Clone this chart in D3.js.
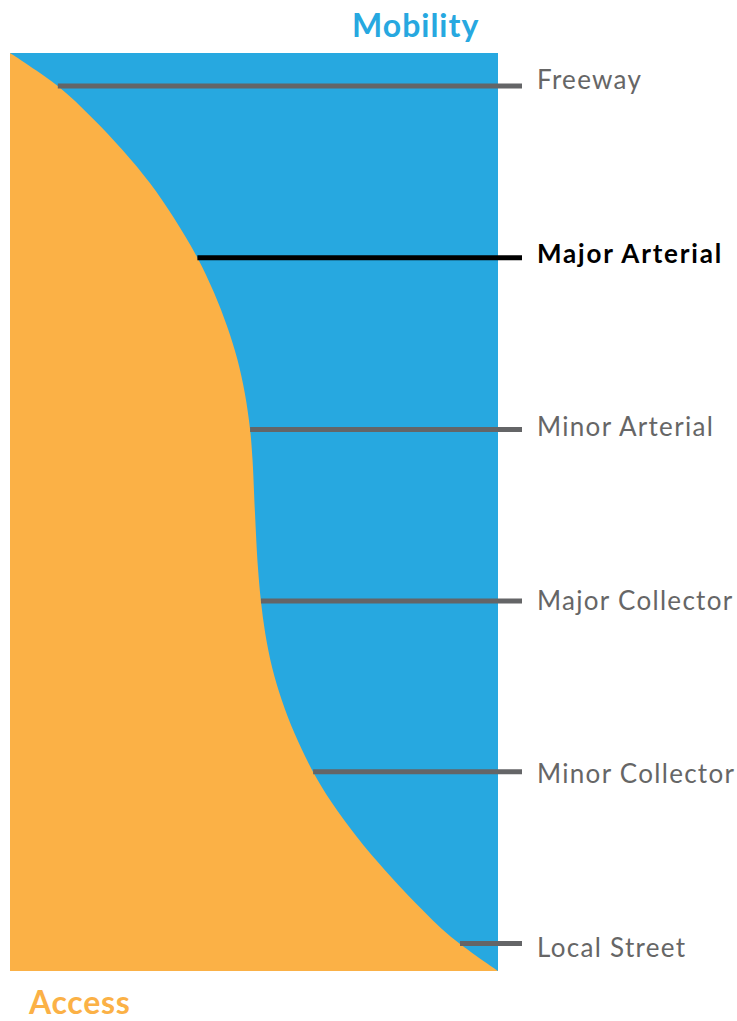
<!DOCTYPE html>
<html>
<head>
<meta charset="utf-8">
<script src="https://cdn.jsdelivr.net/npm/d3@7"></script>
<style>
  body { margin: 0; background: #fff; }
  svg { display: block; }
</style>
</head>
<body>
<svg id="chart" width="737" height="1021"></svg>
<script>
// ---- Data (percent along the mobility axis vs. access share) ----
// boundary between Access (left, orange) and Mobility (right, blue)
const boundaryDepth = [0, 3.6, 7.0, 10.6, 14.2, 17.9, 22.3, 26.1, 29.8, 33.4, 37.0, 41.0, 44.3, 50.1, 56.0, 59.6, 63.2, 66.9, 70.5, 74.1, 78.2, 81.7, 85.4, 89.0, 92.6, 96.3, 100];
const boundaryAccess = [0, 9.8, 16.7, 23.1, 28.7, 33.5, 38.4, 41.8, 44.5, 46.6, 48.1, 49.2, 49.7, 50.2, 50.8, 51.4, 52.3, 53.7, 55.7, 58.3, 62.0, 66.0, 71.1, 76.8, 83.1, 90.4, 100];

const categories = ["Freeway", "Major Arterial", "Minor Arterial", "Major Collector", "Minor Collector", "Local Street"];
const categoryDepth = [3.6, 22.3, 41.0, 59.7, 78.3, 97.0];
const highlighted = ["Major Arterial"];

const titleTop = "Mobility";
const titleBottom = "Access";

// ---- Layout ----
const svg = d3.select("#chart");
const x = d3.scaleLinear().domain([0, 100]).range([10, 498]);
const y = d3.scaleLinear().domain([0, 100]).range([53, 971]);
const labelY = d3.scalePoint().domain(categories).range([89, 957]);
const accessAt = d3.scaleLinear().domain(boundaryDepth).range(boundaryAccess);

const BLUE = "#27a8e0", ORANGE = "#fbb146", GRAY = "#646567", TEXTGRAY = "#666666";
const FONT = "Lato, 'Open Sans', sans-serif";

// mobility background
svg.append("rect")
  .attr("x", x(0)).attr("y", y(0))
  .attr("width", x(100) - x(0)).attr("height", y(100) - y(0))
  .attr("fill", BLUE);

// access area
const pts = boundaryDepth.map((d, i) => ({ d, a: boundaryAccess[i] }));
const area = d3.area()
  .curve(d3.curveCatmullRom.alpha(0.5))
  .y(p => y(p.d))
  .x0(x(0))
  .x1(p => x(p.a));
svg.append("path").datum(pts).attr("d", area).attr("fill", ORANGE);

// category leader lines
svg.selectAll("line.cat").data(categories).join("line")
  .attr("class", "cat")
  .attr("x1", (c, i) => x(accessAt(categoryDepth[i])))
  .attr("x2", 522)
  .attr("y1", (c, i) => y(categoryDepth[i]))
  .attr("y2", (c, i) => y(categoryDepth[i]))
  .attr("stroke", c => highlighted.includes(c) ? "#000" : GRAY)
  .attr("stroke-width", 5);

// labels
svg.selectAll("text.cat").data(categories).join("text")
  .attr("class", "cat")
  .attr("x", 537)
  .attr("y", c => labelY(c))
  .attr("font-family", FONT)
  .attr("font-size", 26)
  .attr("letter-spacing", c => highlighted.includes(c) ? 1.8 : 1.3)
  .attr("font-weight", c => highlighted.includes(c) ? 700 : 400)
  .attr("fill", c => highlighted.includes(c) ? "#000" : TEXTGRAY)
  .text(c => c);

// axis titles
svg.append("text")
  .attr("x", 352).attr("y", 37)
  .attr("font-family", FONT)
  .attr("font-size", 32).attr("font-weight", 700)
  .attr("letter-spacing", 1)
  .attr("fill", BLUE)
  .text(titleTop);

svg.append("text")
  .attr("x", 29).attr("y", 1014)
  .attr("font-family", FONT)
  .attr("font-size", 32).attr("font-weight", 700)
  .attr("letter-spacing", 0.7)
  .attr("fill", ORANGE)
  .text(titleBottom);
</script>
</body>
</html>
